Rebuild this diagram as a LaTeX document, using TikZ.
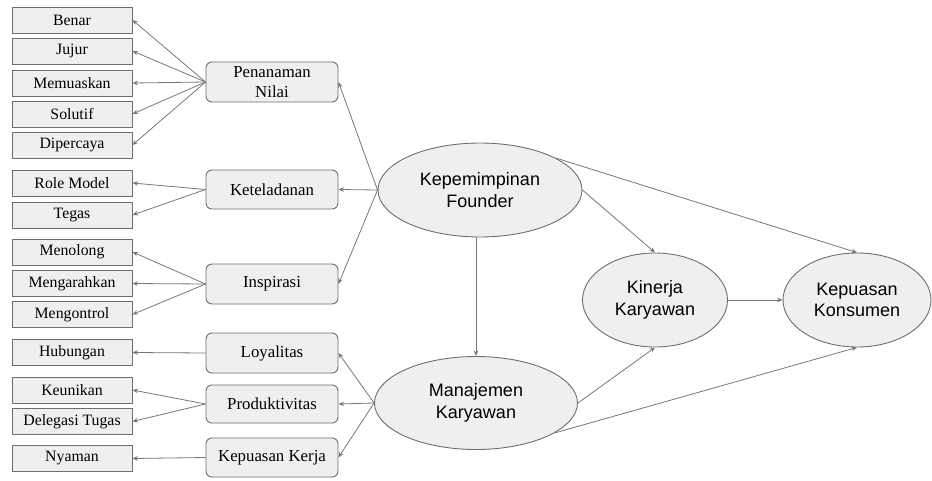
\documentclass[tikz,border=0pt]{standalone}
\usepackage{fontspec}
\setmainfont{Liberation Serif}
\newfontfamily\arialf{Liberation Sans}
\usetikzlibrary{arrows.meta,shapes.geometric}
\definecolor{boxfill}{HTML}{EFEFEF}
\definecolor{boxline}{HTML}{6E6E6E}
\definecolor{arrline}{HTML}{777777}
\begin{document}
\begin{tikzpicture}[x=1pt,y=-1pt,
  leaf/.style={draw=boxline,fill=boxfill,line width=0.9pt,minimum width=120pt,minimum height=26pt,inner sep=0pt,font=\fontsize{15.8}{18}\selectfont},
  mid/.style={draw=boxline,fill=boxfill,line width=0.9pt,rounded corners=6pt,minimum width=132pt,inner sep=0pt,align=center,font=\fontsize{16.8}{20}\selectfont},
  oval/.style={ellipse,draw=boxline,fill=boxfill,line width=0.9pt,inner sep=0pt,align=center,font=\arialf\fontsize{18}{21.5}\selectfont},
  arr/.style={draw=arrline,line width=0.8pt,-{Stealth[length=5.5pt,width=4.5pt]}}]
\useasboundingbox (0,0) rectangle (932,480);
% leaf boxes
\node[leaf] (benar) at (72,20) {Benar};
\node[leaf] (jujur) at (72,51) {Jujur};
\node[leaf] (memuaskan) at (72,83) {Memuaskan};
\node[leaf] (solutif) at (72,114) {Solutif};
\node[leaf] (dipercaya) at (72,145) {Dipercaya};
\node[leaf] (role) at (72,183) {Role Model};
\node[leaf] (tegas) at (72,215) {Tegas};
\node[leaf] (menolong) at (72,252) {Menolong};
\node[leaf] (mengarahkan) at (72,283.5) {Mengarahkan};
\node[leaf] (mengontrol) at (72,314.5) {Mengontrol};
\node[leaf] (hubungan) at (72,352.5) {Hubungan};
\node[leaf] (keunikan) at (72,390) {Keunikan};
\node[leaf] (delegasi) at (72,421.5) {Delegasi Tugas};
\node[leaf] (nyaman) at (72,458.5) {Nyaman};
% middle boxes
\node[mid,minimum height=40pt] (nilai) at (272,82) {Penanaman\\Nilai};
\node[mid,minimum height=39pt] (teladan) at (272,189.5) {Keteladanan};
\node[mid,minimum height=40pt] (inspirasi) at (272,284) {Inspirasi};
\node[mid,minimum height=40pt] (loyal) at (272,353) {Loyalitas};
\node[mid,minimum height=38pt] (produktif) at (272,404) {Produktivitas};
\node[mid,minimum height=39pt] (kerja) at (272,457.5) {Kepuasan Kerja};
% ellipses
\node[oval,minimum width=204pt,minimum height=94pt] (F) at (480,190) {Kepemimpinan\\Founder};
\node[oval,minimum width=203pt,minimum height=93pt] (M) at (476,403) {Manajemen\\Karyawan};
\node[oval,minimum width=145pt,minimum height=94pt] (K) at (655,300) {Kinerja\\Karyawan};
\node[oval,minimum width=148pt,minimum height=94pt] (C) at (857,300) {Kepuasan\\Konsumen};
% leaf arrows
\foreach \t in {benar,jujur,memuaskan,solutif,dipercaya} \draw[arr] (nilai.west) -- (\t.east);
\foreach \t in {role,tegas} \draw[arr] (teladan.west) -- (\t.east);
\foreach \t in {menolong,mengarahkan,mengontrol} \draw[arr] (inspirasi.west) -- (\t.east);
\draw[arr] (loyal.west) -- (hubungan.east);
\foreach \t in {keunikan,delegasi} \draw[arr] (produktif.west) -- (\t.east);
\draw[arr] (kerja.west) -- (nyaman.east);
% construct arrows
\draw[arr] (F.west) -- (nilai.east);
\draw[arr] (F.west) -- (teladan.east);
\draw[arr] (F.west) -- (inspirasi.east);
\draw[arr] (M.west) -- (loyal.east);
\draw[arr] (M.west) -- (produktif.east);
\draw[arr] (M.west) -- (kerja.east);
\draw[arr] (M.north |- F.south) -- (M.north);
\draw[arr] (F.east) -- (K.north);
\draw[arr] (F.23) -- (C.north);
\draw[arr] (K.east) -- (C.west);
\draw[arr] (M.east) -- (K.south);
\draw[arr] (M.-21) -- (C.south);
\end{tikzpicture}
\end{document}
